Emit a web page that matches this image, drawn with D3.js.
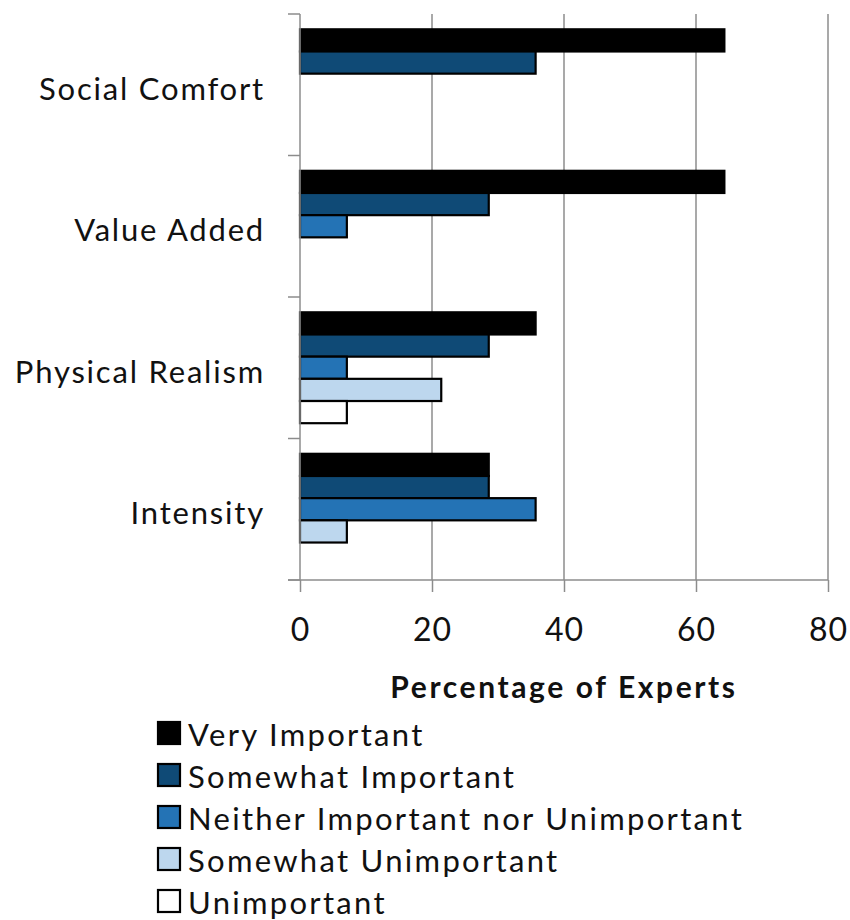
<!DOCTYPE html>
<html>
<head>
<meta charset="utf-8">
<script src="https://cdn.jsdelivr.net/npm/d3@7"></script>
<style>
  body { margin: 0; background: #fff; }
  text { font-family: Lato, 'Open Sans', sans-serif; fill: #111; }
</style>
</head>
<body>
<div id="chart"></div>
<script>
// categories, top to bottom
const categories = ['Social Comfort', 'Value Added', 'Physical Realism', 'Intensity'];
const seriesNames = ['Very Important', 'Somewhat Important', 'Neither Important nor Unimportant',
                     'Somewhat Unimportant', 'Unimportant'];
const seriesColors = ['#000000', '#0f4a76', '#2473b5', '#bdd7ee', '#ffffff'];

// percentage of experts, one array per series (same order as categories)
const veryImportant     = [64.3, 64.3, 35.7, 28.6];
const somewhatImportant = [35.7, 28.6, 28.6, 28.6];
const neither           = [0, 7.1, 7.1, 35.7];
const somewhatUnimp     = [0, 0, 21.4, 7.1];
const unimportant       = [0, 0, 7.1, 0];
const seriesValues = [veryImportant, somewhatImportant, neither, somewhatUnimp, unimportant];

const xTicks = [0, 20, 40, 60, 80];

const width = 850;
const height = 920;
const plot = { left: 300, right: 828, top: 14, bottom: 580 };

const svg = d3.select('#chart')
              .append('svg')
              .attr('width', width)
              .attr('height', height);

const xScale = d3.scaleLinear()
                 .domain([0, 80])
                 .range([plot.left, plot.right]);

const yScale = d3.scaleBand()
                 .domain(categories)
                 .range([plot.top, plot.bottom])
                 .padding(0);

const innerScale = d3.scaleBand()
                     .domain(seriesNames)
                     .range([0, yScale.bandwidth()])
                     .paddingInner(0)
                     .paddingOuter(0.69);

// vertical gridlines
svg.append('g')
   .selectAll('line')
   .data(xTicks.slice(1))
   .enter()
   .append('line')
   .attr('x1', d => xScale(d))
   .attr('x2', d => xScale(d))
   .attr('y1', plot.top)
   .attr('y2', plot.bottom)
   .attr('stroke', '#8c8c8c')
   .attr('stroke-width', 1.5);

// bars
const rows = [];
seriesNames.forEach((s, si) => {
    categories.forEach((c, ci) => {
        const v = seriesValues[si][ci];
        if (v > 0) rows.push({ series: s, cat: c, value: v, color: seriesColors[si] });
    });
});

svg.append('g')
   .selectAll('rect')
   .data(rows)
   .enter()
   .append('rect')
   .attr('x', xScale(0))
   .attr('y', d => yScale(d.cat) + innerScale(d.series))
   .attr('width', d => xScale(d.value) - xScale(0))
   .attr('height', innerScale.bandwidth())
   .attr('fill', d => d.color)
   .attr('stroke', '#000')
   .attr('stroke-width', 2.2);

// y axis (category boundaries as ticks)
const yAxis = svg.append('g');
yAxis.append('line')
     .attr('x1', plot.left).attr('x2', plot.left)
     .attr('y1', plot.top).attr('y2', plot.bottom)
     .attr('stroke', '#8c8c8c').attr('stroke-width', 1.5);
const boundaries = categories.map(c => yScale(c)).concat([plot.bottom]);
yAxis.selectAll('line.tick')
     .data(boundaries)
     .enter()
     .append('line')
     .attr('class', 'tick')
     .attr('x1', plot.left - 12).attr('x2', plot.left)
     .attr('y1', d => d).attr('y2', d => d)
     .attr('stroke', '#8c8c8c').attr('stroke-width', 1.5);
yAxis.selectAll('text')
     .data(categories)
     .enter()
     .append('text')
     .attr('x', 265)
     .attr('y', d => yScale(d) + yScale.bandwidth() / 2 + 15)
     .attr('text-anchor', 'end')
     .style('font-size', '31px')
     .style('letter-spacing', '1.8px')
     .text(d => d);

// x axis
const xAxis = d3.axisBottom(xScale)
                .tickValues(xTicks)
                .tickSize(12)
                .tickSizeOuter(0)
                .tickPadding(26);
const xg = svg.append('g')
              .attr('transform', `translate(0, ${plot.bottom})`)
              .call(xAxis);
xg.select('.domain')
  .attr('d', `M${plot.left - 12},0H${plot.right}`)
  .attr('stroke', '#8c8c8c').attr('stroke-width', 1.5);
xg.selectAll('.tick line').attr('stroke', '#8c8c8c').attr('stroke-width', 1.5);
xg.selectAll('.tick text')
  .style('font-size', '32px')
  .style('font-family', 'Lato, sans-serif')
  .style('letter-spacing', '1px')
  .attr('fill', '#111');

svg.append('text')
   .attr('x', (plot.left + plot.right) / 2)
   .attr('y', 698)
   .attr('text-anchor', 'middle')
   .style('font-size', '30px')
   .style('font-weight', 'bold')
   .style('letter-spacing', '2.6px')
   .text('Percentage of Experts');

// legend
const legend = svg.append('g')
                  .selectAll('g')
                  .data(seriesNames)
                  .enter()
                  .append('g')
                  .attr('transform', (d, i) => `translate(158, ${722 + i * 42})`);
legend.append('rect')
      .attr('width', 22)
      .attr('height', 22)
      .attr('fill', (d, i) => seriesColors[i])
      .attr('stroke', '#000')
      .attr('stroke-width', 2.2);
legend.append('text')
      .attr('x', 30)
      .attr('y', 24)
      .style('font-size', '31px')
      .style('letter-spacing', '2.3px')
      .text(d => d);
</script>
</body>
</html>
